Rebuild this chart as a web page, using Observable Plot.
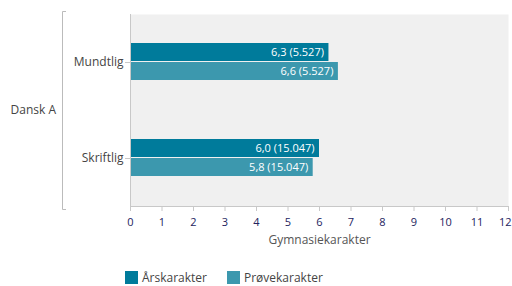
<!DOCTYPE html>
<html><head><meta charset="utf-8">
<script src="https://cdn.jsdelivr.net/npm/d3@7"></script>
<script src="https://cdn.jsdelivr.net/npm/@observablehq/plot@0.6"></script>
<style>
body{margin:0;background:#fff;font-family:"Open Sans",sans-serif;}
#legend{display:flex;gap:20px;margin-left:125px;margin-top:19px;font-size:12px;color:#444;}
#legend span.item{display:flex;align-items:center;gap:4px;}
#legend span.sw{display:inline-block;width:13px;height:13px;}
</style></head>
<body><div id="chart"></div><div id="legend"></div>
<script>
const group = "Dansk A";
const subjects = ["Mundtlig", "Skriftlig"];
const series = ["Årskarakter", "Prøvekarakter"];
const colors = ["#007b9b", "#3c98ae"];
const aarsValues = [6.3, 6.0];
const proeveValues = [6.6, 5.8];
const counts = [5527, 15047];
const xTicks = [0,1,2,3,4,5,6,7,8,9,10,11,12];
const xLabel = "Gymnasiekarakter";

const fmt = (v, n) => v.toFixed(1).replace(".", ",") + " (" + n.toLocaleString("da-DK").replace(/\u00a0/g,".") + ")";
const aars = subjects.map((s,i)=>({subject:s, series:series[0], value:aarsValues[i], label:fmt(aarsValues[i], counts[i])}));
const proeve = subjects.map((s,i)=>({subject:s, series:series[1], value:proeveValues[i], label:fmt(proeveValues[i], counts[i])}));

const deco = (index, scales, values, dims) => {
  const ns = "http://www.w3.org/2000/svg";
  const g = document.createElementNS(ns, "g");
  const L = dims.marginLeft, R = dims.width - dims.marginRight, T = dims.marginTop, B = dims.height - dims.marginBottom;
  const add = (tag, attrs, text) => { const e = document.createElementNS(ns, tag); for (const k in attrs) e.setAttribute(k, attrs[k]); if (text) e.textContent = text; g.appendChild(e); return e; };
  add("path", {d:`M${L+0.5},${T}V${B+0.5}H${R}`, stroke:"#c8c8c8", fill:"none"});
  add("path", {d:`M66,${T-2.5}H62.5V${B+3.5}H66`, stroke:"#bbbbbb", fill:"none"});
  add("text", {x:56, y:(T+B)/2, "text-anchor":"end", dy:"0.35em", fill:"#444", "font-size":12}, group);
  return g;
};

const chart = Plot.plot({
  width: 512, height: 250,
  marginLeft: 130, marginRight: 4, marginTop: 14, marginBottom: 44,
  style: {fontFamily: "Open Sans, sans-serif", background: "#fff"},
  x: {domain: [0, 12], ticks: xTicks, label: null},
  y: {domain: subjects, padding: 0, label: null},
  marks: [
    Plot.frame({fill: "#f0f0f0", stroke: null}),
    Plot.barX(aars, {x: "value", y: "subject", fill: colors[0], insetTop: 29, insetBottom: 49}),
    Plot.barX(proeve, {x: "value", y: "subject", fill: colors[1], insetTop: 48, insetBottom: 30}),
    Plot.text(aars, {x: "value", y: "subject", text: "label", textAnchor: "end", dx: -5, dy: -10, fill: "white", fontSize: 11}),
    Plot.text(proeve, {x: "value", y: "subject", text: "label", textAnchor: "end", dx: -5, dy: 9, fill: "white", fontSize: 11}),
    Plot.axisX({ticks: xTicks, tickSize: 5, tickPadding: 7, fontSize: 11, color: "#23235e", stroke: "#c8c8c8", label: null}),
    Plot.axisY({tickSize: 5, tickPadding: 2, fontSize: 12, color: "#444", stroke: "#999", label: null}),
    Plot.text([xLabel], {frameAnchor: "bottom", text: d => d, dy: 37, fill: "#555", fontSize: 12}),
    deco
  ]
});
chart.querySelectorAll("g[aria-label='x-axis tick'] path, g[aria-label='y-axis tick'] path").forEach(p => p.setAttribute("stroke", "#c8c8c8"));
const xt = chart.querySelectorAll("g[aria-label='x-axis tick label'] text");
if (xt.length) { const last = xt[xt.length - 1]; last.setAttribute("text-anchor", "end"); last.setAttribute("dx", "3"); }
document.getElementById("chart").appendChild(chart);
const leg = document.getElementById("legend");
series.forEach((s,i) => {
  const it = document.createElement("span"); it.className = "item";
  const sw = document.createElement("span"); sw.className = "sw"; sw.style.background = colors[i];
  const t = document.createElement("span"); t.textContent = s;
  it.appendChild(sw); it.appendChild(t); leg.appendChild(it);
});
</script></body></html>
